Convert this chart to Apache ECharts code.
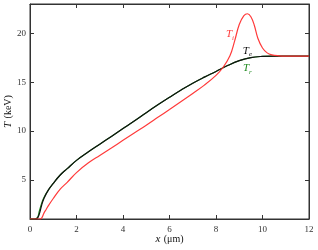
<!DOCTYPE html>
<html><head><meta charset="utf-8">
<script src="https://cdn.jsdelivr.net/npm/echarts@6/dist/echarts.min.js"></script>
<style>html,body{margin:0;padding:0;background:#fff}#c{width:318px;height:250px}</style>
</head><body><div id="c"></div>
<script>
// x positions (μm) and temperatures (keV)
var xTe = [0, 0.2, 0.3, 0.4, 0.5, 0.6, 0.8, 1.0, 1.3, 1.6, 2.0, 2.5, 3.0, 3.5, 4.0, 4.5, 5.0, 5.5, 6.0, 6.5, 7.0, 7.5, 8.0, 8.5, 9.0, 9.5, 10.0, 10.5, 11.0, 12.0];
var Te  = [1.0, 1.0, 1.05, 1.5, 2.4, 3.1, 4.0, 4.65, 5.5, 6.15, 7.0, 7.85, 8.65, 9.45, 10.25, 11.05, 11.88, 12.68, 13.45, 14.2, 14.9, 15.52, 16.1, 16.7, 17.2, 17.52, 17.64, 17.67, 17.67, 17.67];
var xTr = [0, 0.2, 0.3, 0.35, 0.4, 0.5, 0.6, 0.8, 1.0, 1.3, 1.6, 2.0, 2.5, 3.0, 3.5, 4.0, 4.5, 5.0, 5.5, 6.0, 6.5, 7.0, 7.5, 8.0, 8.5, 9.0, 9.5, 10.0, 10.5, 11.0, 12.0];
var Tr  = [1.0, 1.0, 1.1, 1.3, 1.8, 2.6, 3.2, 4.0, 4.65, 5.5, 6.15, 7.0, 7.85, 8.65, 9.45, 10.25, 11.05, 11.88, 12.68, 13.45, 14.2, 14.9, 15.52, 16.1, 16.7, 17.2, 17.52, 17.64, 17.67, 17.67, 17.67];
var xTi = [0, 0.4, 0.5, 0.6, 0.7, 0.8, 1.0, 1.3, 1.6, 2.0, 2.5, 3.0, 3.5, 4.0, 4.5, 5.0, 5.5, 6.0, 6.5, 7.0, 7.5, 8.0, 8.3, 8.6, 8.8, 9.0, 9.2, 9.35, 9.5, 9.65, 9.8, 10.0, 10.2, 10.4, 10.7, 11.0, 12.0];
var Ti  = [1.0, 1.0, 1.1, 1.6, 2.0, 2.4, 3.1, 4.05, 4.75, 5.75, 6.72, 7.5, 8.27, 9.05, 9.83, 10.6, 11.4, 12.2, 13.02, 13.85, 14.7, 15.7, 16.5, 17.7, 19.2, 20.9, 21.8, 22.0, 21.7, 20.8, 19.5, 18.5, 18.0, 17.8, 17.7, 17.67, 17.67];
var xTicks = [0, 2, 4, 6, 8, 10, 12];
var yTicks = [5, 10, 15, 20];

function pairs(xs, ys) { return xs.map(function (v, i) { return [v, ys[i]]; }); }

var serif = 'Liberation Serif';
var axisCol = '#333';
var chart = echarts.init(document.getElementById('c'), null, {renderer: 'canvas'});
var baseX = {
  type: 'value', min: 0, max: 12, interval: 2,
  axisLine: {show: true, onZero: false, lineStyle: {color: axisCol, width: 1}},
  axisTick: {show: true, inside: true, length: 4, lineStyle: {color: axisCol}},
  splitLine: {show: false}
};
var baseY = {
  type: 'value', min: 1, max: 23,
  axisLine: {show: true, onZero: false, lineStyle: {color: axisCol, width: 1}},
  axisTick: {show: true, inside: true, length: 4, customValues: yTicks, lineStyle: {color: axisCol}},
  splitLine: {show: false}
};
var rich = {
  it: {fontFamily: serif, fontStyle: 'italic', fontSize: 11, color: '#111'},
  n: {fontFamily: serif, fontSize: 10, color: '#111'}
};
function lab(sub, col) {
  return {
    show: true, position: 'inside',
    formatter: '{t|T}{s|' + sub + '}',
    rich: {
      t: {fontFamily: serif, fontStyle: 'italic', fontSize: 11, color: col, lineHeight: 14, verticalAlign: 'middle'},
      s: {fontFamily: serif, fontStyle: 'italic', fontSize: 7, color: col, lineHeight: 8, verticalAlign: 'bottom', padding: [6, 0, 0, 0]}
    }
  };
}
function mp(coord, sub, col) {
  return {symbol: 'circle', symbolSize: 1, silent: true, itemStyle: {color: 'rgba(0,0,0,0)'},
          data: [{coord: coord, label: lab(sub, col)}]};
}
chart.setOption({
  animation: false,
  grid: {left: 30, right: 9, top: 4, bottom: 31, outerBoundsMode: 'none', containLabel: false,
         show: true, borderColor: axisCol, borderWidth: 1, backgroundColor: 'transparent'},
  xAxis: [
    Object.assign({}, baseX, {
      position: 'bottom',
      axisLabel: {show: true, fontFamily: serif, fontSize: 9, color: axisCol, margin: 6, customValues: xTicks},
      name: '{it|x} {n|(μm)}', nameLocation: 'middle', nameGap: 14, nameMoveOverlap: false,
      nameTextStyle: {rich: rich}
    }),
    Object.assign({}, baseX, {position: 'top', axisLabel: {show: false}})
  ],
  yAxis: [
    Object.assign({}, baseY, {
      position: 'left',
      axisLabel: {show: true, fontFamily: serif, fontSize: 9, color: axisCol, margin: 4, customValues: yTicks},
      name: '{it|T} {n|(keV)}', nameLocation: 'middle', nameGap: 16, nameMoveOverlap: false,
      nameTextStyle: {rich: rich}
    }),
    Object.assign({}, baseY, {position: 'right', axisLabel: {show: false}})
  ],
  series: [
    {type: 'line', name: 'Tr', data: pairs(xTr, Tr), showSymbol: false, smooth: 0.4,
     lineStyle: {color: '#1f8a1f', width: 1.2}, z: 2, markPoint: mp([9.35, 16.4], 'r', '#1f8a1f')},
    {type: 'line', name: 'Te', data: pairs(xTe, Te), showSymbol: false, smooth: 0.4,
     lineStyle: {color: '#111', width: 1.2}, z: 3, markPoint: mp([9.35, 18.2], 'e', '#111')},
    {type: 'line', name: 'Ti', data: pairs(xTi, Ti), showSymbol: false, smooth: 0.4,
     lineStyle: {color: '#ff3a3a', width: 1.2}, z: 4, markPoint: mp([8.6, 19.9], 'i', '#ff3a3a')}
  ]
});
</script>
</body></html>
